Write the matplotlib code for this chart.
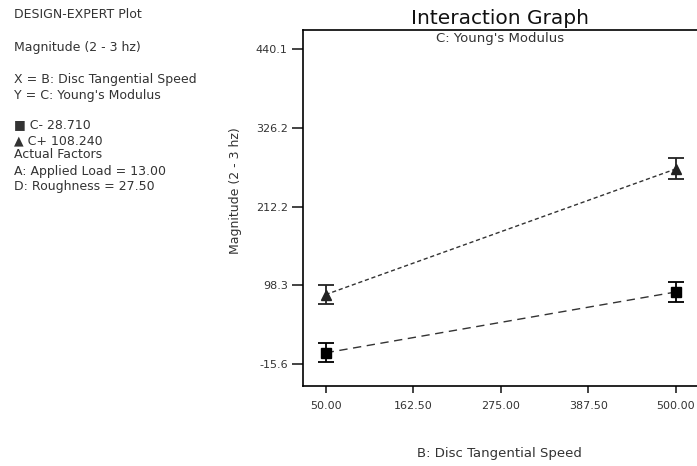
import matplotlib.pyplot as plt

plt.rcParams["font.family"] = ["DejaVu Sans"]

# interaction graph data
speed = [50.0, 500.0]
c_minus = [0.7, 88.7]
c_plus = [84.9, 266.7]
c_minus_err = [14.0, 15.0]
c_plus_err = [14.0, 15.0]

xticks = [50.0, 162.5, 275.0, 387.5, 500.0]
xtick_labels = ["50.00", "162.50", "275.00", "387.50", "500.00"]
yticks = [-15.6, 98.3, 212.2, 326.2, 440.1]
ytick_labels = ["-15.6", "98.3", "212.2", "326.2", "440.1"]

info_lines = [
    ("DESIGN-EXPERT Plot", 14),
    ("Magnitude (2 - 3 hz)", 47),
    ("X = B: Disc Tangential Speed", 80),
    ("Y = C: Young's Modulus", 96),
    ("\u25a0 C- 28.710", 125),
    ("\u25b2 C+ 108.240", 141),
    ("Actual Factors", 155),
    ("A: Applied Load = 13.00", 171),
    ("D: Roughness = 27.50", 186),
]

W, H = 697, 466
fig = plt.figure(figsize=(W / 100, H / 100), dpi=100)
ax = fig.add_axes([303 / W, 1 - 386 / H, 394 / W, 356 / H])

txt = "#333333"
ax.errorbar(speed, c_minus, yerr=c_minus_err, fmt="s", color="black", ms=7,
            capsize=6, elinewidth=1.3, capthick=1.3)
ax.plot(speed, c_minus, color="#333333", lw=1, dashes=(6, 4))
ax.errorbar(speed, c_plus, yerr=c_plus_err, fmt="^", color="#222222", ms=7,
            capsize=6, elinewidth=1.3, capthick=1.3)
ax.plot(speed, c_plus, color="#333333", lw=1, dashes=(3, 2))

ax.set_xlim(20.9, 527)
ax.set_ylim(-47.3, 467.5)
ax.set_xticks(xticks)
ax.set_xticklabels(xtick_labels)
ax.set_yticks(yticks)
ax.set_yticklabels(ytick_labels)
ax.tick_params(labelsize=8, colors="#222222", labelcolor=txt, width=1.2)
ax.tick_params(axis="y", length=8, pad=3)
ax.tick_params(axis="x", length=5, pad=6)
for s in ax.spines.values():
    s.set_linewidth(1.2)
ax.spines["right"].set_visible(False)

fig.text(499 / W, 1 - 453 / H, "B: Disc Tangential Speed", ha="center", va="center",
         fontsize=9.5, color=txt)
fig.text(235 / W, 1 - 191 / H, "Magnitude (2 - 3 hz)", ha="center", va="center",
         rotation=90, fontsize=9, color=txt)
ax.text(0.5, 0.975, "C: Young's Modulus", transform=ax.transAxes, ha="center",
        va="center", fontsize=9.5, color=txt)
fig.text(500 / W, 1 - 19 / H, "Interaction Graph", ha="center", va="center",
         fontsize=14.5, color="#111111")

for line, y in info_lines:
    fig.text(14 / W, 1 - y / H, line, ha="left", va="center", fontsize=9, color=txt)

fig.savefig("out.png", dpi=100)
